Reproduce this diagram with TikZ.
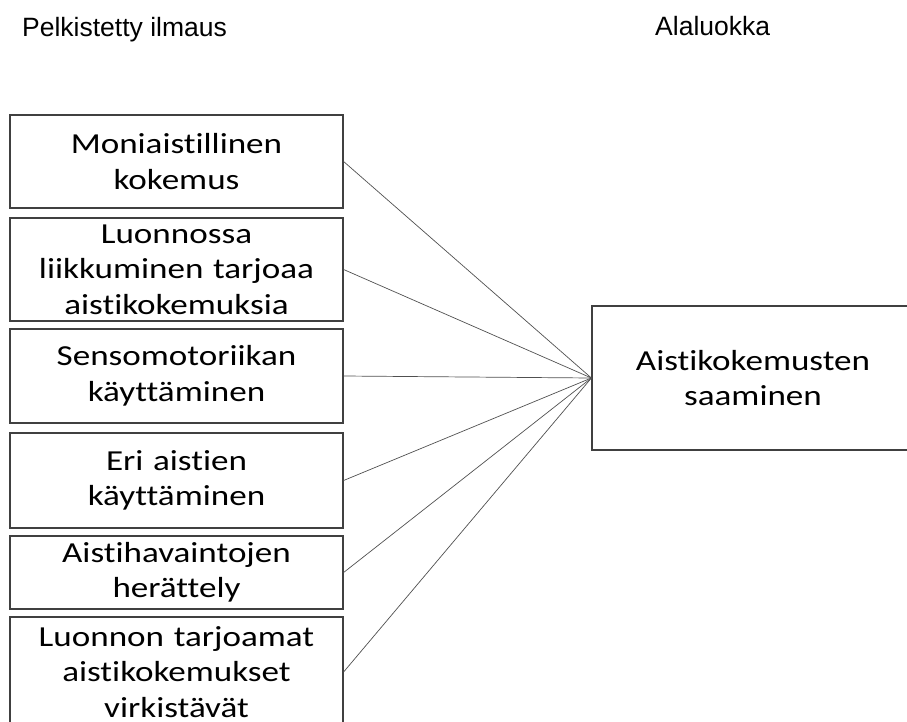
\documentclass[tikz,border=0pt]{standalone}
\usepackage{fontspec}
\usepackage{tikz}
\usetikzlibrary{positioning}
\newfontfamily\headfont{Liberation Sans}
\newfontfamily\boxfont{Carlito}[FakeStretch=1.21,Ligatures=NoCommon]
\definecolor{boxedge}{HTML}{404040}
\definecolor{connline}{HTML}{505050}

\begin{document}
\begin{tikzpicture}[x=1pt,y=-1pt,
    box/.style={draw=boxedge,line width=1.2pt,minimum width=333pt,text width=325pt,
                align=center,font=\boxfont\fontsize{29}{35.5}\selectfont},
    head/.style={anchor=base west,font=\headfont\fontsize{26.5}{30}\selectfont},
    conn/.style={draw=connline,line width=0.7pt}]
            \tikzstyle{every node}+=[inner sep=0pt]
            \useasboundingbox (0,0) rectangle (907,722);
            \clip (0,0) rectangle (907,722);
            % headings
            \node [head] (hleft) at (22,37) {Pelkistetty ilmaus};
            \node [head] (hright) at (655,36) {Alaluokka};
            % reduced expressions
            \node [box,minimum height=93pt] (m1) at (176.5,161.5) {Moniaistillinen\\kokemus};
            \node [box,minimum height=103pt] (m2) at (176.5,269.5) {Luonnossa\\liikkuminen tarjoaa\\aistikokemuksia};
            \node [box,minimum height=94pt] (m3) at (176.5,376) {Sensomotoriikan\\käyttäminen};
            \node [box,minimum height=95pt] (m4) at (176.5,480.5) {Eri aistien\\käyttäminen};
            \node [box,minimum height=73pt] (m5) at (176.5,572.5) {Aistihavaintojen\\herättely};
            \node [box,minimum height=110pt] (m6) at (176.5,672) {Luonnon tarjoamat\\aistikokemukset\\virkistävät};
            % subcategory
            \node [box,minimum width=322pt,text width=310pt,minimum height=144pt] (sub) at (753,378) {Aistikokemusten\\saaminen};
            % links
            \foreach \m in {m1,m2,m3,m4,m5,m6}
                \draw [conn] (\m.east) -- (sub.west);
\end{tikzpicture}
\end{document}
